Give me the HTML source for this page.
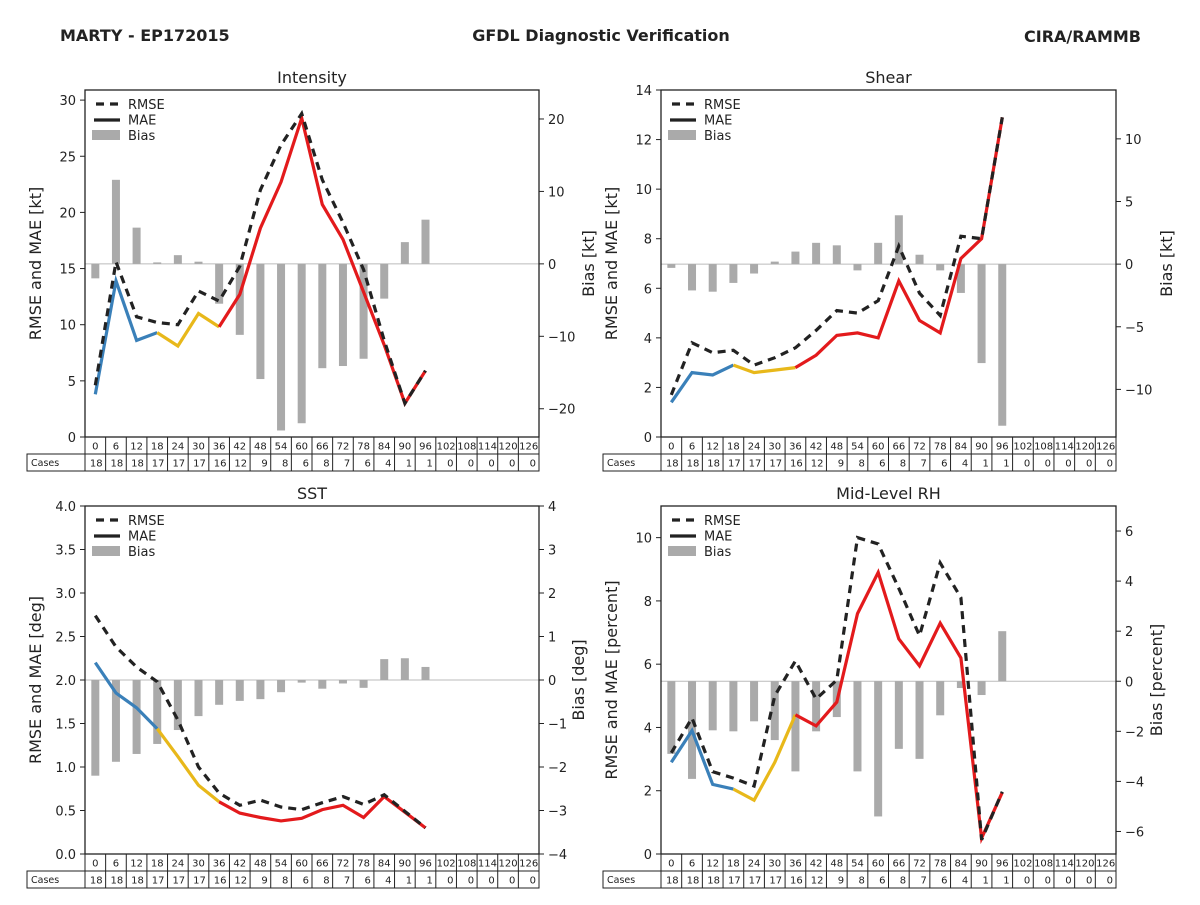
<!DOCTYPE html>
<html><head><meta charset="utf-8">
<style>
html,body{margin:0;padding:0;background:#fff;}
svg text{font-family:"DejaVu Sans","Liberation Sans",sans-serif;fill:#222;}
</style></head>
<body>
<svg id="c" width="1200" height="900" viewBox="0 0 1200 900" xmlns="http://www.w3.org/2000/svg">
<text x="60" y="41" font-size="16" font-weight="bold">MARTY - EP172015</text>
<text x="601" y="41" font-size="16" font-weight="bold" text-anchor="middle">GFDL Diagnostic Verification</text>
<text x="1141" y="42" font-size="16" font-weight="bold" text-anchor="end">CIRA/RAMMB</text>
</svg>
<script>
const hours = [0,6,12,18,24,30,36,42,48,54,60,66,72,78,84,90,96,102,108,114,120,126];
const cases = [18,18,18,17,17,17,16,12,9,8,6,8,7,6,4,1,1,0,0,0,0,0];

const intRmse = [4.6,15.6,10.7,10.2,10,13,12.1,15.2,22,26,28.8,22.9,19.1,14.9,8.6,3,5.9];
const intMae  = [3.8,13.9,8.6,9.3,8.1,11,9.8,12.7,18.6,22.7,28.4,20.7,17.6,12.9,8.2,3,5.9];
const intBias = [-2,11.6,5,0.2,1.2,0.3,-5.5,-9.8,-15.9,-23,-22,-14.4,-14.1,-13.1,-4.8,3,6.1];

const shrRmse = [1.7,3.8,3.4,3.5,2.9,3.2,3.6,4.3,5.1,5.0,5.5,7.7,5.8,4.9,8.1,8.0,12.9];
const shrMae  = [1.4,2.6,2.5,2.9,2.6,2.7,2.8,3.3,4.1,4.2,4.0,6.3,4.7,4.2,7.2,8.0,12.9];
const shrBias = [-0.3,-2.1,-2.2,-1.5,-0.75,0.2,1.0,1.7,1.5,-0.5,1.7,3.9,0.75,-0.5,-2.3,-7.9,-12.9];

const sstRmse = [2.74,2.38,2.15,1.98,1.54,1.0,0.7,0.56,0.62,0.54,0.51,0.59,0.66,0.57,0.68,0.49,0.3];
const sstMae  = [2.2,1.85,1.68,1.44,1.12,0.79,0.6,0.47,0.42,0.38,0.41,0.51,0.56,0.42,0.66,0.48,0.3];
const sstBias = [-2.2,-1.88,-1.7,-1.47,-1.15,-0.83,-0.57,-0.48,-0.44,-0.28,-0.06,-0.2,-0.08,-0.18,0.48,0.5,0.3];

const rhRmse = [3.2,4.3,2.6,2.4,2.15,5.0,6.1,4.9,5.5,10.0,9.8,8.4,6.9,9.2,8.1,0.45,1.97];
const rhMae  = [2.9,3.9,2.2,2.05,1.7,2.9,4.4,4.05,4.8,7.6,8.9,6.8,5.95,7.3,6.2,0.5,1.95];
const rhBias = [-2.9,-3.9,-1.96,-2.0,-1.6,-2.35,-3.6,-2.0,-1.43,-3.6,-5.4,-2.7,-3.1,-1.36,-0.27,-0.55,2.0];

const intLeftTicks = [0,5,10,15,20,25,30];
const intRightTicks = [-20,-10,0,10,20];
const shrLeftTicks = [0,2,4,6,8,10,12,14];
const shrRightTicks = [-10,-5,0,5,10];
const sstLeftTicks = [0,0.5,1,1.5,2,2.5,3,3.5,4];
const sstRightTicks = [-4,-3,-2,-1,0,1,2,3,4];
const rhLeftTicks = [0,2,4,6,8,10];
const rhRightTicks = [-6,-4,-2,0,2,4,6];

const svg = document.getElementById('c');
const NS = 'http://www.w3.org/2000/svg';
function mk(tag, attrs, parent){const e=document.createElementNS(NS,tag);for(const k in attrs)e.setAttribute(k,attrs[k]);(parent||svg).appendChild(e);return e;}

function panel(o){
  const g = mk('g',{});
  
  
  const L=o.x0,R=o.x1,T=o.y0,B=o.y1;
  const n=hours.length, cw=(R-L)/n;
  const xs=i=>L+cw*(i+0.5);
  const yl=v=>B-(v-o.lmin)/(o.lmax-o.lmin)*(B-T);
  const yr=v=>B-(v-o.rmin)/(o.rmax-o.rmin)*(B-T);
  const t=mk('text',{x:(L+R)/2,y:T-7,'font-size':16,'text-anchor':'middle'},g);t.textContent=o.title;
  
  
  const z=mk('line',{x1:L,x2:R,y1:yr(0),y2:yr(0),stroke:'#bbb','stroke-width':1},g);
  
  
  o.bias.forEach((v,i)=>{
    const y0=yr(0),y1=yr(v);
    const b=mk('rect',{x:xs(i)-4,y:Math.min(y0,y1),width:8,height:Math.abs(y1-y0),fill:'#aaa'},g);
    
    
  });
  const cols=['#3a80b9','#e8b81a','#e31a1c'];
  const segs=[[0,3],[3,6],[6,o.mae.length-1]];
  segs.forEach((s,k)=>{
    let p='';for(let i=s[0];i<=s[1];i++)p+=(i===s[0]?'M':'L')+xs(i).toFixed(1)+','+yl(o.mae[i]).toFixed(1);
    const l=mk('path',{d:p,fill:'none',stroke:cols[k],'stroke-width':3.2,'stroke-linejoin':'miter'},g);
    
    
  });
  let p='';o.rmse.forEach((v,i)=>p+=(i?'L':'M')+xs(i).toFixed(1)+','+yl(v).toFixed(1));
  const rl=mk('path',{d:p,fill:'none',stroke:'#222','stroke-width':3.2,'stroke-dasharray':'8,6'},g);
  
  
  const f=mk('rect',{x:L,y:T,width:R-L,height:B-T,fill:'none',stroke:'#222','stroke-width':1.3},g);
  
  
  o.lt.forEach(v=>{
    const y=yl(v);mk('line',{x1:L-5,x2:L,y1:y,y2:y,stroke:'#222'},g);
    const tt=mk('text',{x:L-9,y:y+5,'font-size':13,'text-anchor':'end'},g);tt.textContent=o.lfmt(v);
    
    
  });
  o.rt.forEach(v=>{
    const y=yr(v);mk('line',{x1:R,x2:R+5,y1:y,y2:y,stroke:'#222'},g);
    const tt=mk('text',{x:R+9,y:y+5,'font-size':13},g);tt.textContent=(v<0?'\u2212'+(-v):v);
    
    
  });
  const la=mk('text',{x:0,y:0,'font-size':16,'text-anchor':'middle',transform:`translate(${L-44},${(T+B)/2}) rotate(-90)`},g);la.textContent=o.lab;
  
  
  const ra=mk('text',{x:0,y:0,'font-size':16,'text-anchor':'middle',transform:`translate(${R+o.roff},${(T+B)/2}) rotate(-90)`},g);ra.textContent=o.rlab;
  
  
  const lg=mk('g',{},g);
  
  
  mk('line',{x1:L+11,x2:L+37,y1:T+14,y2:T+14,stroke:'#222','stroke-width':3.2,'stroke-dasharray':'8,6'},lg);
  mk('line',{x1:L+9,x2:L+35,y1:T+30,y2:T+30,stroke:'#222','stroke-width':3.2},lg);
  mk('rect',{x:L+7,y:T+40,width:28,height:10,fill:'#aaa'},lg);
  ['RMSE','MAE','Bias'].forEach((s,k)=>{const tx=mk('text',{x:L+43,y:T+19+k*15.5,'font-size':13},lg);tx.textContent=s;});
  const tg=mk('g',{},g);
  
  
  const r1=B, r2=B+17, r3=B+34;
  mk('rect',{x:L-58,y:r2,width:R-L+58,height:17,fill:'none',stroke:'#222'},tg);
  mk('rect',{x:L,y:r1,width:R-L,height:17,fill:'none',stroke:'#222'},tg);
  mk('line',{x1:L,x2:L,y1:r2,y2:r3,stroke:'#222'},tg);
  const ct=mk('text',{x:L-54,y:r2+12,'font-size':9.5},tg);ct.textContent='Cases';
  for(let i=0;i<n;i++){
    if(i>0)mk('line',{x1:L+cw*i,x2:L+cw*i,y1:r1,y2:r3,stroke:'#222'},tg);
    const h=mk('text',{x:xs(i),y:r1+12.5,'font-size':10,'text-anchor':'middle'},tg);h.textContent=hours[i];
    const c=mk('text',{x:L+cw*(i+1)-3,y:r2+12.5,'font-size':10,'text-anchor':'end'},tg);c.textContent=cases[i];
  }
}
const f0=v=>String(v), f1=v=>v.toFixed(1);
panel({key:'intensity',title:'Intensity',x0:85,x1:539,y0:90,y1:437,lmin:0,lmax:30.9,rmin:-23.9,rmax:24,rmse:intRmse,mae:intMae,bias:intBias,lt:intLeftTicks,rt:intRightTicks,lfmt:f0,lab:'RMSE and MAE [kt]',rlab:'Bias [kt]',roff:55});
panel({key:'shear',title:'Shear',x0:661,x1:1116,y0:90,y1:437,lmin:0,lmax:14,rmin:-13.8,rmax:13.9,rmse:shrRmse,mae:shrMae,bias:shrBias,lt:shrLeftTicks,rt:shrRightTicks,lfmt:f0,lab:'RMSE and MAE [kt]',rlab:'Bias [kt]',roff:56});
panel({key:'sst',title:'SST',x0:85,x1:539,y0:506,y1:854,lmin:0,lmax:4,rmin:-4,rmax:4,rmse:sstRmse,mae:sstMae,bias:sstBias,lt:sstLeftTicks,rt:sstRightTicks,lfmt:f1,lab:'RMSE and MAE [deg]',rlab:'Bias [deg]',roff:45});
panel({key:'rh',title:'Mid-Level RH',x0:661,x1:1116,y0:506,y1:854,lmin:0,lmax:11.0,rmin:-6.9,rmax:7.0,rmse:rhRmse,mae:rhMae,bias:rhBias,lt:rhLeftTicks,rt:rhRightTicks,lfmt:f0,lab:'RMSE and MAE [percent]',rlab:'Bias [percent]',roff:46});
</script>
</body></html>
